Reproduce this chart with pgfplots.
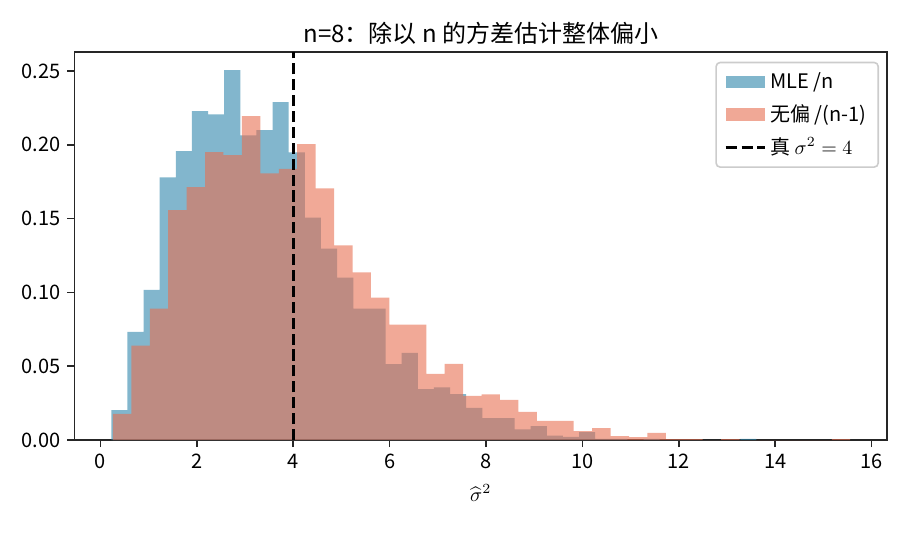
\documentclass[border=0pt]{standalone}
\usepackage{fontspec}
\setmainfont{Noto Sans CJK SC}
\usepackage{pgfplots}
\pgfplotsset{compat=1.18}

\definecolor{mlec}{HTML}{2E86AB}
\definecolor{ubc}{HTML}{E76F51}

\begin{document}
\begin{tikzpicture}
\useasboundingbox (-37.2pt,-46pt) rectangle (417.8pt,220pt);
\begin{axis}[
  scale only axis,
  width=406.3pt, height=194.15pt,
  xmin=-0.538, xmax=16.32,
  ymin=0, ymax=0.2631,
  xtick={0,2,...,16},
  ytick={0,0.05,...,0.25},
  xtick pos=left, ytick pos=left,
  tick align=outside,
  major tick length=3.5pt,
  tick style={black!85, line width=0.8pt},
  axis line style={black!85, line width=0.8pt},
  scaled ticks=false,
  /pgf/number format/assume math mode=true,
  ticklabel style={font=\fontsize{10}{12}\selectfont},
  yticklabel style={/pgf/number format/.cd, fixed, fixed zerofill, precision=2},
  title={n=8：除以 n 的方差估计整体偏小},
  title style={anchor=base, yshift=-1.5pt, font=\fontsize{12}{14}\selectfont},
  xlabel={$\widehat{\sigma}^2$},
  xlabel style={at={(axis description cs:0.5,0)}, anchor=base, yshift=-30.5pt, font=\fontsize{10}{12}\selectfont},
  legend cell align=left,
  legend style={at={(1,1)}, anchor=north east, xshift=-4pt, yshift=-5pt,
    draw=black!20, rounded corners=2pt, line width=0.8pt,
    font=\fontsize{10}{12}\selectfont, row sep=2.5pt,
    inner xsep=4pt, inner ysep=3pt},
]
% MLE /n (density, 40 bins)
\addplot[draw=none, fill=mlec, fill opacity=0.6, const plot mark left,
  legend image code/.code={\fill[mlec, fill opacity=0.6, sharp corners] (0pt,-3.2pt) rectangle (19.5pt,3.2pt);}]
  coordinates {
  (0.2280,0.0203) (0.5626,0.0733) (0.8972,0.1018) (1.2318,0.1780)
  (1.5664,0.1957) (1.9010,0.2228) (2.2356,0.2207) (2.5702,0.2506)
  (2.9048,0.2064) (3.2394,0.2099) (3.5740,0.2289) (3.9086,0.1949)
  (4.2432,0.1507) (4.5778,0.1297) (4.9124,0.1101) (5.2470,0.0891)
  (5.5816,0.0891) (5.9162,0.0514) (6.2508,0.0590) (6.5854,0.0344)
  (6.9200,0.0356) (7.2546,0.0311) (7.5892,0.0217) (7.9238,0.0148)
  (8.2584,0.0148) (8.5930,0.0072) (8.9276,0.0094) (9.2622,0.0029)
  (9.5968,0.0021) (9.9314,0.0054) (10.2660,0.0007) (10.6006,0.0007)
  (10.9352,0) (11.2698,0.0007) (11.6044,0) (11.9390,0)
  (12.2736,0) (12.6082,0) (12.9428,0) (13.2774,0.0007)
  (13.6120,0.0007)
  } \closedcycle;
\addlegendentry{MLE /n}
% unbiased /(n-1)
\addplot[draw=none, fill=ubc, fill opacity=0.6, const plot mark left,
  legend image code/.code={\fill[ubc, fill opacity=0.6, sharp corners] (0pt,-3.2pt) rectangle (19.5pt,3.2pt);}]
  coordinates {
  (0.2606,0.0177) (0.6430,0.0640) (1.0254,0.0890) (1.4078,0.1557)
  (1.7902,0.1713) (2.1726,0.1950) (2.5550,0.1930) (2.9374,0.2194)
  (3.3198,0.1807) (3.7022,0.1837) (4.0846,0.2004) (4.4670,0.1705)
  (4.8494,0.1318) (5.2318,0.1135) (5.6142,0.0965) (5.9966,0.0781)
  (6.3790,0.0781) (6.7614,0.0448) (7.1438,0.0516) (7.5262,0.0299)
  (7.9086,0.0309) (8.2910,0.0272) (8.6734,0.0190) (9.0558,0.0129)
  (9.4382,0.0129) (9.8206,0.0061) (10.2030,0.0081) (10.5854,0.0027)
  (10.9678,0.0020) (11.3502,0.0048) (11.7326,0.0006) (12.1150,0.0006)
  (12.4974,0) (12.8798,0.0006) (13.2622,0) (13.6446,0)
  (14.0270,0) (14.4094,0) (14.7918,0) (15.1742,0.0006)
  (15.5566,0.0006)
  } \closedcycle;
\addlegendentry{无偏 /(n-1)}
% true variance
\addplot[black, line width=1.5pt, dash pattern=on 5.55pt off 2.4pt,
  legend image code/.code={\draw[black, line width=1.5pt, sharp corners, dash pattern=on 5.55pt off 2.4pt] (0pt,0pt) -- (19.5pt,0pt);}]
  coordinates {(4,0) (4,0.2631)};
\addlegendentry{真 $\sigma^2 = 4$}
\end{axis}
\end{tikzpicture}
\end{document}
